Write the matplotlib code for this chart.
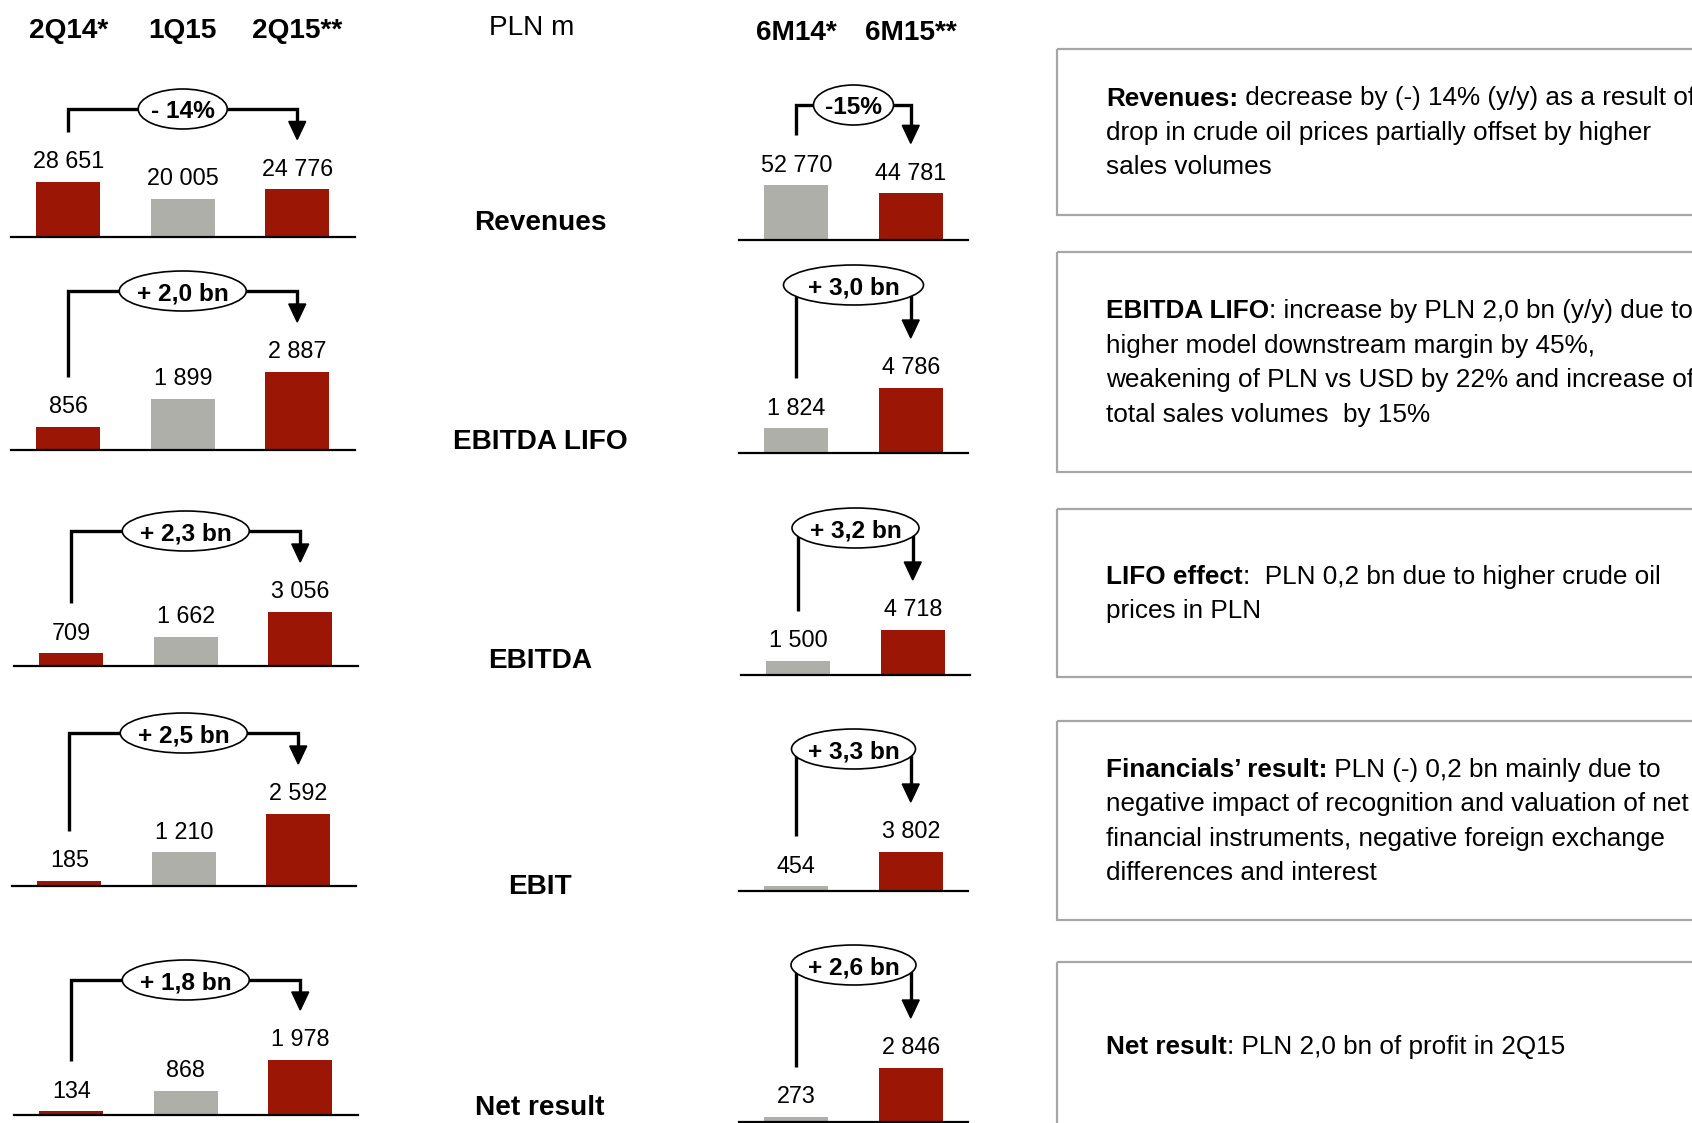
import matplotlib
matplotlib.use("Agg")
import matplotlib.pyplot as plt
from matplotlib import font_manager
from matplotlib.patches import Ellipse, Rectangle, Polygon

# ---------------- data ----------------
metrics = ["Revenues", "EBITDA LIFO", "EBITDA", "EBIT", "Net result"]
quarter_labels = ["2Q14*", "1Q15", "2Q15**"]
halfyear_labels = ["6M14*", "6M15**"]
unit_label = "PLN m"
q_2q14 = [28651, 856, 709, 185, 134]
q_1q15 = [20005, 1899, 1662, 1210, 868]
q_2q15 = [24776, 2887, 3056, 2592, 1978]
h_6m14 = [52770, 1824, 1500, 454, 273]
h_6m15 = [44781, 4786, 4718, 3802, 2846]
q_change = ["- 14%", "+ 2,0 bn", "+ 2,3 bn", "+ 2,5 bn", "+ 1,8 bn"]
h_change = ["-15%", "+ 3,0 bn", "+ 3,2 bn", "+ 3,3 bn", "+ 2,6 bn"]
comment_bold = ["Revenues:", "EBITDA LIFO", "LIFO effect", "Financials\u2019 result:", "Net result"]
comment_lines = [
    [" decrease by (-) 14% (y/y) as a result of", "drop in crude oil prices partially offset by higher", "sales volumes"],
    [": increase by PLN 2,0 bn (y/y) due to", "higher model downstream margin by 45%,",
     "weakening of PLN vs USD by 22% and increase of", "total sales volumes  by 15%"],
    [":  PLN 0,2 bn due to higher crude oil", "prices in PLN"],
    [" PLN (-) 0,2 bn mainly due to", "negative impact of recognition and valuation of net",
     "financial instruments, negative foreign exchange", "differences and interest"],
    [": PLN 2,0 bn of profit in 2Q15"],
]

# ---------------- style / layout ----------------
RED = "#9C1606"
GRAY = "#AFAFAA"
W, H, DPI = 1692, 1123, 100

names = {f.name for f in font_manager.fontManager.ttflist}
NARROW = "Liberation Sans Narrow" in names
FONT = "Liberation Sans Narrow" if NARROW else "Liberation Sans"
S = 1.0 if NARROW else 0.84
plt.rcParams["font.family"] = [FONT, "DejaVu Sans"]

UNIT = 114.5
AX_H = 120
LEFT_X0 = [11, 11, 14, 12, 14]
LEFT_BASE = [237, 450, 666, 886, 1115]
LEFT_MAXPX = [55, 78, 54, 72, 55]
MID_X0 = [739, 739, 741, 739, 739]
MID_BASE = [240, 453, 675, 891, 1122]
MID_MAXPX = [55, 65, 45, 39, 54]
LEFT_ELL_Y = [109, 291, 531, 733, 980]
MID_ELL_Y = [105, 285, 528, 749, 965]
LEFT_ELL_W = [89, 127, 127, 127, 127]
MID_ELL_W = [80, 140, 127, 124, 125]
ELL_H = 40
ROW_LABEL_Y = [223, 442, 661, 887, 1108]
BOXES = [(49, 215), (252, 472), (509, 677), (721, 920), (962, 1140)]
BOX_X0 = 1057
TEXT_X = 1106
LINE_DY = 34.5
BOX_FS = 19.5 * (1.0 if NARROW else 0.965)

fig = plt.figure(figsize=(W / DPI, H / DPI), dpi=DPI)
fig.patch.set_facecolor("white")


def fmt(v):
    return f"{v:,}".replace(",", " ")


def panel(x0, base, ncat, values, colors, maxpx):
    ax = fig.add_axes([x0 / W, 1 - base / H, ncat * UNIT / W, AX_H / H])
    ax.set_xlim(-0.5, ncat - 0.5)
    ax.set_ylim(0, max(values) * AX_H / maxpx)
    ax.bar(range(ncat), values, width=0.56, color=colors, zorder=2)
    for s in ["top", "left", "right"]:
        ax.spines[s].set_visible(False)
    ax.spines["bottom"].set_linewidth(1.6)
    ax.set_xticks([])
    ax.set_yticks([])
    ax.patch.set_alpha(0)
    for i, v in enumerate(values):
        ax.annotate(fmt(v), (i, v), xytext=(0, 20), textcoords="offset pixels",
                    ha="center", va="center", fontsize=20 * S, annotation_clip=False)
    return ax


overlay = fig.add_axes([0, 0, 1, 1], zorder=10)
overlay.set_xlim(0, W)
overlay.set_ylim(H, 0)
overlay.axis("off")
overlay.patch.set_alpha(0)


def to_overlay(ax, x, y):
    px, py = ax.transData.transform((x, y))
    return px, H - py


def bracket(ax, first, last, v_first, v_last, ey, ew, label):
    x1, t1 = to_overlay(ax, first, v_first)
    x3, t3 = to_overlay(ax, last, v_last)
    start = t1 - 50
    tip = t3 - 50
    ah, aw = 18, 17
    overlay.plot([x1, x1, x3, x3], [start, ey, ey, tip - ah + 1], color="black",
                 lw=2.4, solid_capstyle="butt", solid_joinstyle="miter", zorder=3)
    overlay.add_patch(Polygon([(x3 - aw / 2, tip - ah), (x3 + aw / 2, tip - ah), (x3, tip)],
                              closed=True, color="black", zorder=3))
    xc = (x1 + x3) / 2
    overlay.add_patch(Ellipse((xc, ey), ew, ELL_H, facecolor="white", edgecolor="black",
                              lw=1.2, zorder=4))
    overlay.text(xc, ey + 3, label, ha="center", va="center", fontsize=21 * S,
                 fontweight="bold", zorder=5)


for r in range(5):
    qv = [q_2q14[r], q_1q15[r], q_2q15[r]]
    axl = panel(LEFT_X0[r], LEFT_BASE[r], 3, qv, [RED, GRAY, RED], LEFT_MAXPX[r])
    bracket(axl, 0, 2, qv[0], qv[2], LEFT_ELL_Y[r], LEFT_ELL_W[r], q_change[r])
    hv = [h_6m14[r], h_6m15[r]]
    axm = panel(MID_X0[r], MID_BASE[r], 2, hv, [GRAY, RED], MID_MAXPX[r])
    bracket(axm, 0, 1, hv[0], hv[1], MID_ELL_Y[r], MID_ELL_W[r], h_change[r])
    overlay.text(540, ROW_LABEL_Y[r], metrics[r], ha="center", va="center",
                 fontsize=24 * S, fontweight="bold")

# headers
for i, lab in enumerate(quarter_labels):
    overlay.text(11 + (i + 0.5) * UNIT, 31, lab, ha="center", va="center",
                 fontsize=24 * S, fontweight="bold")
for i, lab in enumerate(halfyear_labels):
    overlay.text(739 + (i + 0.5) * UNIT, 33, lab, ha="center", va="center",
                 fontsize=24 * S, fontweight="bold")
overlay.text(532, 28, unit_label, ha="center", va="center", fontsize=24 * S)

# comment boxes
for r in range(5):
    top, bot = BOXES[r]
    overlay.add_patch(Rectangle((BOX_X0, top), W + 20 - BOX_X0, bot - top, facecolor="none",
                                edgecolor="#A6A6A6", lw=1.6, clip_on=False))
    lines = comment_lines[r]
    n = len(lines)
    yc = min((top + bot) / 2, 1046) if r == 4 else (top + bot) / 2
    y0 = yc - (n - 1) * LINE_DY / 2 + 1
    b = overlay.text(TEXT_X, y0, comment_bold[r], ha="left", va="center",
                     fontsize=BOX_FS, fontweight="bold")
    overlay.annotate(lines[0], xy=(1, 0), xycoords=b, ha="left", va="bottom",
                     fontsize=BOX_FS)
    for k in range(1, n):
        overlay.text(TEXT_X, y0 + k * LINE_DY, lines[k], ha="left", va="center",
                     fontsize=BOX_FS)

fig.savefig("out.png", dpi=DPI, facecolor="white")
